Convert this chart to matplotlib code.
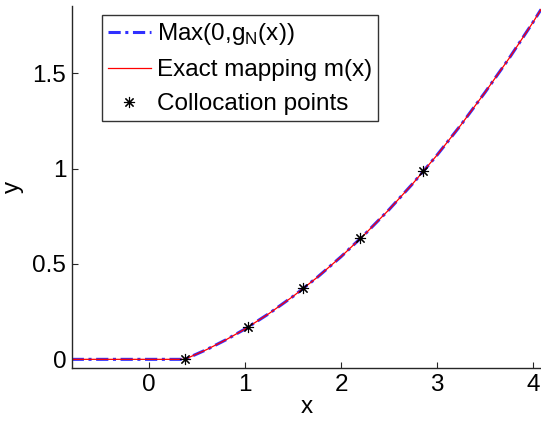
import matplotlib
matplotlib.use("Agg")
import matplotlib.pyplot as plt
from matplotlib.ticker import FixedLocator, FixedFormatter

plt.rcParams['font.family'] = ['Liberation Sans', 'DejaVu Sans']

# Curve (both curves coincide)
curve_x = [-0.805, 0.372, 0.6, 0.8, 1.0, 1.25, 1.5, 1.75, 2.0, 2.25, 2.5, 2.75,
           3.0, 3.25, 3.5, 3.75, 4.0, 4.083]
curve_y = [0.0, 0.0, 0.051, 0.102, 0.159, 0.240, 0.330, 0.429, 0.538, 0.657, 0.785,
           0.923, 1.071, 1.230, 1.400, 1.578, 1.768, 1.835]
approx_y = curve_y

# Collocation points
coll_x = [0.372, 1.028, 1.607, 2.198, 2.851]
coll_y = [0.0, 0.168, 0.375, 0.634, 0.989]

xticks = [0, 1, 2, 3, 4]
xtick_labels = ['0', '1', '2', '3', '4']
yticks = [0, 0.5, 1, 1.5]
ytick_labels = ['0', '0.5', '1', '1.5']

FS = 17.5

fig = plt.figure(figsize=(5.41, 4.23), dpi=100)
ax = fig.add_axes([71.7 / 541, (423 - 368.3) / 423, (541 - 71.7) / 541, (368.3 - 6) / 423])

l1, = ax.plot(curve_x, approx_y, linestyle=(0, (4, 1.5, 1, 1.5)), color='#3030ff', lw=2.2,
              label='Max(0,g$_\\mathregular{N}$(x))')
l2, = ax.plot(curve_x, curve_y, color='red', lw=0.9, label='Exact mapping m(x)')
l3, = ax.plot(coll_x, coll_y, linestyle='none', marker=(8, 2, 0), markersize=8,
              markeredgewidth=0.8, color='black', label='Collocation points')

ax.set_xlim(-0.805, 4.083)
ax.set_ylim(-0.047, 1.853)
ax.xaxis.set_major_locator(FixedLocator(xticks))
ax.xaxis.set_major_formatter(FixedFormatter(xtick_labels))
ax.yaxis.set_major_locator(FixedLocator(yticks))
ax.yaxis.set_major_formatter(FixedFormatter(ytick_labels))

for s in ['top', 'right']:
    ax.spines[s].set_visible(False)
for s in ['left', 'bottom']:
    ax.spines[s].set_color('#262626')
    ax.spines[s].set_linewidth(1.0)
ax.tick_params(direction='in', length=4, width=0.8, labelsize=FS, colors='#262626',
               labelcolor='black', pad=4)

ax.set_xlabel('x', fontsize=FS, labelpad=0)
ax.set_ylabel('y', fontsize=FS, labelpad=6)

leg = ax.legend(handles=[l1, l2, l3], loc='upper left',
                bbox_to_anchor=(102 / 541, 1 - 15 / 423), bbox_transform=fig.transFigure,
                borderaxespad=0, fontsize=FS, frameon=True, fancybox=False,
                handlelength=1.75, handletextpad=0.25, labelspacing=0.5,
                borderpad=0.25, numpoints=1)
leg.get_frame().set_edgecolor('black')
leg.get_frame().set_linewidth(1.0)

fig.savefig('out.png', dpi=100)
